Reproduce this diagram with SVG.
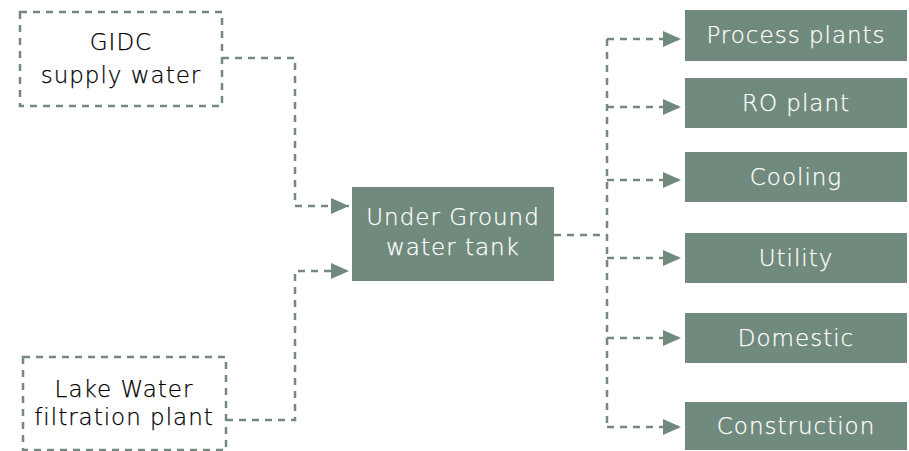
<svg xmlns="http://www.w3.org/2000/svg" width="909" height="451" viewBox="0 0 909 451">
<style>
.src{fill:none;stroke:#76897f;stroke-width:2.5;stroke-dasharray:7 6}
.box{fill:#718a7e}
.con{fill:none;stroke:#76897f;stroke-width:2.5;stroke-dasharray:7 6}
.t{font-family:"DejaVu Sans","Open Sans",sans-serif;font-weight:300;font-size:23px;text-anchor:middle;letter-spacing:1px}
.dk{fill:#000000;stroke:#000000;stroke-width:0.25}
.lt{fill:#ffffff;stroke:#ffffff;stroke-width:0.25}
</style>
<defs>
<marker id="ah" viewBox="0 0 18 16" refX="18" refY="8" markerWidth="18" markerHeight="16" markerUnits="userSpaceOnUse" orient="auto">
<path d="M0,0 L18,8 L0,16 Z" fill="#718a7e"/>
</marker>
</defs>
<rect width="909" height="451" fill="#ffffff"/>
<g id="connectors">
<path class="con" d="M222,58 H295 V206 H349" marker-end="url(#ah)"/>
<path class="con" d="M226,420 H295 V271 H349" marker-end="url(#ah)"/>
<path class="con" d="M554,235 H607"/>
<path class="con" d="M607,39 V427"/>
<path class="con" d="M607,39 H681" marker-end="url(#ah)"/>
<path class="con" d="M607,107 H681" marker-end="url(#ah)"/>
<path class="con" d="M607,180 H681" marker-end="url(#ah)"/>
<path class="con" d="M607,258 H681" marker-end="url(#ah)"/>
<path class="con" d="M607,338 H681" marker-end="url(#ah)"/>
<path class="con" d="M607,427 H681" marker-end="url(#ah)"/>
</g>
<g id="gidc">
<rect class="src" x="20" y="12" width="202" height="94"/>
<text class="t dk" x="121" y="50">GIDC</text>
<text class="t dk" x="121" y="83">supply water</text>
</g>
<g id="lake">
<rect class="src" x="23" y="357" width="203" height="93"/>
<text class="t dk" x="124" y="397">Lake Water</text>
<text class="t dk" x="124" y="425">filtration plant</text>
</g>
<g id="tank">
<rect class="box" x="352" y="187" width="202" height="94"/>
<text class="t lt" x="453" y="225">Under Ground</text>
<text class="t lt" x="453" y="255">water tank</text>
</g>
<g id="process">
<rect class="box" x="685" y="10" width="222" height="51"/>
<text class="t lt" x="796" y="43">Process plants</text>
</g>
<g id="ro">
<rect class="box" x="685" y="78" width="222" height="50"/>
<text class="t lt" x="796" y="111">RO plant</text>
</g>
<g id="cooling">
<rect class="box" x="685" y="152" width="222" height="50"/>
<text class="t lt" x="796" y="185">Cooling</text>
</g>
<g id="utility">
<rect class="box" x="685" y="233" width="222" height="50"/>
<text class="t lt" x="796" y="266">Utility</text>
</g>
<g id="domestic">
<rect class="box" x="685" y="313" width="222" height="50"/>
<text class="t lt" x="796" y="346">Domestic</text>
</g>
<g id="construction">
<rect class="box" x="685" y="402" width="222" height="48"/>
<text class="t lt" x="796" y="434">Construction</text>
</g>
</svg>
